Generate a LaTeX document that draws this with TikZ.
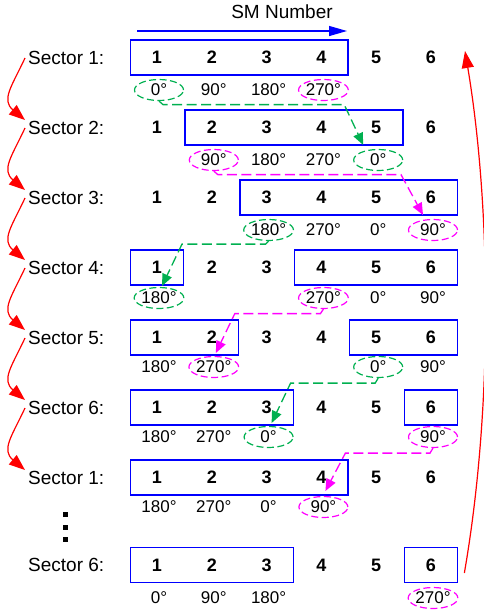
\documentclass[tikz,border=0pt]{standalone}
\usepackage{fontspec}
\setmainfont{Liberation Sans}
\usetikzlibrary{arrows.meta,calc,fit,shapes.geometric}
\definecolor{smblue}{RGB}{0,0,255}
\definecolor{flowgreen}{RGB}{0,176,80}
\definecolor{flowmag}{RGB}{255,0,255}
\definecolor{turnred}{RGB}{255,0,0}

\begin{document}
\begin{tikzpicture}[
  x=1pt,y=1pt,
  sector/.style={anchor=west,inner sep=0pt,font=\fontsize{19}{22}\selectfont},
  smnum/.style={inner sep=0pt,font=\fontsize{18}{21}\selectfont\bfseries},
  angle/.style={inner sep=0pt,font=\fontsize{17}{20}\selectfont},
  bare/.style={},
  ring/.style={ellipse,draw=#1,line width=1.2pt,dash pattern=on 7pt off 3.5pt,minimum width=49pt,minimum height=21pt},
  gring/.style={ring=flowgreen},
  mring/.style={ring=flowmag},
  smbox/.style={draw=smblue,line width=1.3pt,inner xsep=21.5pt,inner ysep=11pt},
  flow/.style={draw=#1,line width=1.3pt,dash pattern=on 10pt off 4.5pt,-{Triangle[length=12pt,width=10pt]}},
  turn/.style={draw=turnred,line width=1.2pt,-{Triangle[length=16pt,width=12pt]}}
]
\useasboundingbox (0,0) rectangle (484,-614);

\node[inner sep=0pt,font=\fontsize{19}{22}\selectfont] (hdr) at (282,-12) {SM Number};
\coordinate (axisL) at (137,-31);
\coordinate (axisR) at (347,-31);
\draw[draw=smblue,line width=1.3pt,-{Triangle[length=18pt,width=10pt]}] (axisL) -- (axisR);

\foreach \r/\y/\s in {1/57.5/1,2/127.5/2,3/197.5/3,4/267.5/4,5/337.5/5,6/407.5/6,7/477.5/1,8/565/6} {
  \node[sector] (s\r) at (28,-\y) {Sector \s:};
  \foreach \c in {1,...,6}
    \node[smnum] (n\r-\c) at ({157+54.8*(\c-1)},-\y) {\c};
}

\node[smbox,fit=(n1-1)(n1-4)] (b1) {};
\node[smbox,fit=(n2-2)(n2-5)] (b2) {};
\node[smbox,fit=(n3-3)(n3-6)] (b3) {};
\node[smbox,fit=(n4-1)] (b4a) {};
\node[smbox,fit=(n4-4)(n4-6)] (b4b) {};
\node[smbox,fit=(n5-1)(n5-2)] (b5a) {};
\node[smbox,fit=(n5-5)(n5-6)] (b5b) {};
\node[smbox,fit=(n6-1)(n6-3)] (b6a) {};
\node[smbox,fit=(n6-6)] (b6b) {};
\node[smbox,fit=(n7-1)(n7-4)] (b7) {};
\node[smbox,fit=(n8-1)(n8-3)] (b8a) {};
\node[smbox,fit=(n8-6)] (b8b) {};

\foreach \r/\y/\c/\t/\k in {
  1/90/1/0°/gring, 1/90/2/90°/bare, 1/90/3/180°/bare, 1/90/4/270°/mring,
  2/160/2/90°/mring, 2/160/3/180°/bare, 2/160/4/270°/bare, 2/160/5/0°/gring,
  3/230/3/180°/gring, 3/230/4/270°/bare, 3/230/5/0°/bare, 3/230/6/90°/mring,
  4/298/1/180°/gring, 4/298/4/270°/mring, 4/298/5/0°/bare, 4/298/6/90°/bare,
  5/367/1/180°/bare, 5/367/2/270°/mring, 5/367/5/0°/gring, 5/367/6/90°/bare,
  6/437/1/180°/bare, 6/437/2/270°/bare, 6/437/3/0°/gring, 6/437/6/90°/mring,
  7/507/1/180°/bare, 7/507/2/270°/bare, 7/507/3/0°/bare, 7/507/4/90°/mring,
  8/598/1/0°/bare, 8/598/2/90°/bare, 8/598/3/180°/bare, 8/598/6/270°/mring}
  \node[angle,\k] (a\r-\c) at ({159+54.8*(\c-1)},-\y) {\t};

\coordinate (t1) at ($(a2-5)+(-15,15)$);
\coordinate (k1) at ($(t1)+(-19,41)$);
\draw[flow=flowgreen] (a1-1.south) -- ++(4,-3.5) coordinate (h1) -- (h1 -| k1) -- (t1);
\coordinate (t2) at ($(a3-6)+(-10,15)$);
\coordinate (k2) at ($(t2)+(-22,41)$);
\draw[flow=flowmag] (a2-2.south) -- ++(4,-3.5) coordinate (h2) -- (h2 -| k2) -- (t2);
\coordinate (t3) at ($(a4-1)+(3,12)$);
\coordinate (k3) at ($(t3)+(20,42)$);
\draw[flow=flowgreen] (a3-3.south) -- ++(-3,-3) coordinate (h3) -- (h3 -| k3) -- (t3);
\coordinate (t4) at ($(a5-2)+(2,14)$);
\coordinate (k4) at ($(t4)+(19,40)$);
\draw[flow=flowmag] (a4-4.south) -- ++(-3,-4.5) coordinate (h4) -- (h4 -| k4) -- (t4);
\coordinate (t5) at ($(a6-3)+(3,14)$);
\coordinate (k5) at ($(t5)+(19,40)$);
\draw[flow=flowgreen] (a5-5.south) -- ++(-3,-5) coordinate (h5) -- (h5 -| k5) -- (t5);
\coordinate (t6) at ($(a7-4)+(2,16)$);
\coordinate (k6) at ($(t6)+(20,39)$);
\draw[flow=flowmag] (a6-6.south) -- ++(-3,-5) coordinate (h6) -- (h6 -| k6) -- (t6);

\foreach \i/\j in {1/2,2/3,3/4,4/5,5/6,6/7}
  \draw[turn] ($(s\i.west)+(-3,-0.5)$) to[out=245,in=140,looseness=1.3] ($(s\j.west)+(-3,7.5)$);
\draw[turn,-{Triangle[length=17pt,width=12pt]}] ($(b8b.east)+(6,-8)$)
  .. controls +(30,173) and +(25,-149) .. ($(n1-6)+(34,6.5)$);

\foreach \y in {512,524.5,537}
  \fill (63,-\y) rectangle ++(5,-5);
\end{tikzpicture}
\end{document}
